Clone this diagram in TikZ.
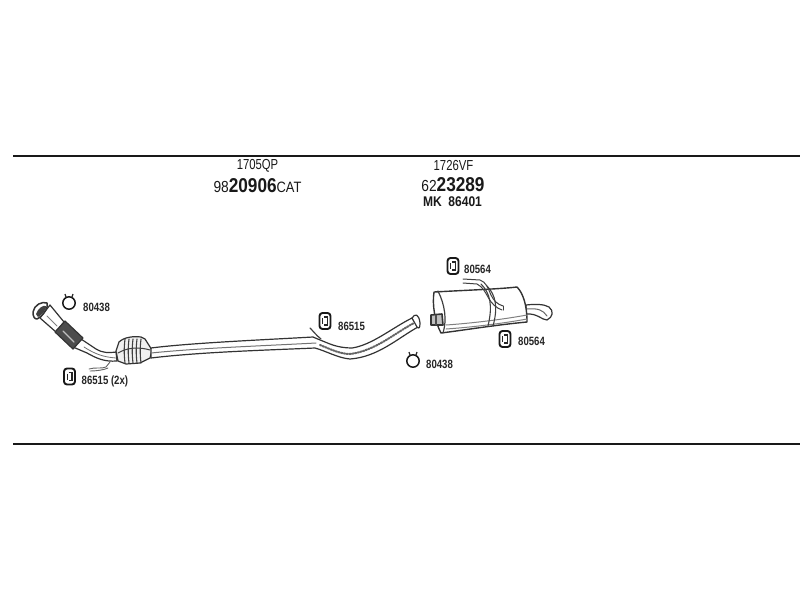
\documentclass[tikz,border=0pt]{standalone}
\usepackage{fontspec}
\setmainfont{Liberation Sans}
\usetikzlibrary{calc}
\newcommand\cnd[2][0.8]{\scalebox{#1}[1]{#2}}
\tikzset{
  part/.style={draw=black!80,fill=white,line width=1.2pt,line join=round},
  thin part/.style={draw=black!70,line width=0.8pt,line cap=round},
  tube/.style={draw=black!75,line width=1pt,line cap=round},
  rule line/.style={draw=black!90,line width=2pt},
  lab/.style={inner sep=0pt,font=\fontsize{12}{12}\selectfont\bfseries,text=black!85,anchor=west},
  head/.style={inner sep=0pt,font=\fontsize{14.5}{14.5}\selectfont,text=black!90},
  clampring/.style={draw=black!90,line width=1.5pt,fill=white},
  hanger/.style={draw=black!90,line width=1.9pt,fill=white,rounded corners=3pt}
}
\newcommand\ringclamp[2]{%
  \draw[clampring] (#1,#2) circle (6.2pt);
  \draw[black!85,line width=1.2pt] (#1-3,#2-6) -- (#1-4,#2-9) (#1+3,#2-6) -- (#1+4,#2-9);
}
\newcommand\hangerclamp[2]{%
  \draw[hanger] (#1-5.5,#2-8) rectangle (#1+5.5,#2+8);
  \draw[black!85,line width=1.2pt] (#1-1,#2-4) -- (#1+2.5,#2-4) -- (#1+2.5,#2+4) -- (#1-1,#2+4);
  \draw[black!85,line width=1pt] (#1-2.5,#2-3) -- (#1-2.5,#2+3);
}
\begin{document}
\begin{tikzpicture}[x=1pt,y=-1pt]
\useasboundingbox (0,0) rectangle (800,600);
\fill[white] (0,0) rectangle (800,600);
% rules
\coordinate (r1a) at (13,155.5); \coordinate (r1b) at (800,155.5);
\coordinate (r2a) at (13,444); \coordinate (r2b) at (800,444);
\draw[rule line] (r1a) -- (r1b);
\draw[rule line] (r2a) -- (r2b);
% headings
\node[head] (h1) at (257.5,166) {\cnd[0.78]{1705QP}};
\node[head] (h2) at (257.5,185.5) {\cnd[0.86]{\fontsize{16}{16}\selectfont 98\fontsize{20}{20}\selectfont\bfseries 20906\fontsize{15}{15}\selectfont\mdseries CAT}};
\node[head] (h3) at (453.5,166) {\cnd[0.78]{1726VF}};
\node[head] (h4) at (453,184.5) {\cnd[0.86]{\fontsize{16}{16}\selectfont 62\fontsize{20}{20}\selectfont\bfseries 23289}};
\node[head] (h5) at (452.5,201.5) {\cnd[0.86]{\fontsize{14}{14}\selectfont\bfseries MK\ \ 86401}};
% front pipe: flange and flex section
\draw[part] (40,318) -- (50,305) -- (64,322) -- (56,332) -- cycle;
\draw[thin part,black!50] (47,316) -- (57,326);
\draw[part,line width=1.5pt] (33,312) .. controls (34,305) and (42,301) .. (47,303) .. controls (49,307) and (43,316) .. (37,319) .. controls (34,319) and (33,316) .. (33,312) -- cycle;
\fill[black!75] (36,314) .. controls (38,308) and (43,305) .. (46,306) .. controls (47,309) and (42,315) .. (38,317) -- cycle;
\draw[part] (73,347) -- (81,339) -- (96,349) .. controls (103,353) and (108,353) .. (116,352) -- (117,361) .. controls (104,362) and (96,358) .. (87,353) -- cycle;
\draw[thin part,black!55] (84,347) .. controls (95,354) and (103,357) .. (116,358);
\draw[part,fill=black!70] (55,332) -- (65,321) -- (83,338) -- (73,349) -- cycle;
\draw[thin part,white!75!black,line width=1.4pt] (63,331) -- (74,342);
% heat shield bracket under pipe
\draw[thin part,black!60,line width=0.9pt] (89,369) .. controls (95,367) and (102,369) .. (106,367) -- (110,362);
\draw[thin part,black!60,line width=0.9pt] (90,371) .. controls (96,371) and (104,370) .. (108,368);
% catalyst
\draw[part,fill=black!6] (116,351) -- (119,342) .. controls (124,337) and (134,336) .. (141,337) -- (145,339) -- (152,350) -- (150,358) -- (140,363) -- (126,364) -- (118,361) -- cycle;
\foreach \x in {125,129,133,137,141} \draw[thin part,black!75,line width=1.1pt] (\x,339) .. controls (\x-1,347) and (\x-1,355) .. (\x,363);
\draw[thin part,black!75,line width=1pt] (118,353) .. controls (128,347) and (140,347) .. (150,350);
% long mid pipe
\draw[part] (151,348) .. controls (190,343) and (260,340) .. (313,337) .. controls (320,340) and (325,342) .. (330,344) .. controls (338,347) and (345,348) .. (352,348) .. controls (372,345) and (392,328) .. (412,318) -- (418,327) .. controls (398,338) and (378,357) .. (350,359) .. controls (338,358) and (326,351) .. (315,348) .. controls (270,350) and (200,352) .. (151,358) -- cycle;
\draw[tube,black!55] (151,353) .. controls (200,348) and (260,346) .. (316,343);
\draw[tube,black!60,dash pattern=on 1.6pt off 1.2pt,line width=2pt] (320,345) .. controls (330,349) and (340,354) .. (350,354) .. controls (375,351) and (395,333) .. (414,323);
\draw[tube,line width=1.2pt] (310,328) .. controls (314,332) and (316,335) .. (321,339);
\draw[part] (412,318) .. controls (415,313) and (419,314) .. (420,323) .. controls (420,328) and (419,329) .. (417,327) -- cycle;
% rear muffler tail pipe
\draw[part] (526,305) .. controls (535,304) and (544,304) .. (549,307) .. controls (554,311) and (553,317) .. (547,320) .. controls (542,320) and (537,313) .. (526,314) -- cycle;
\draw[tube,black!60] (527,309) .. controls (538,308) and (543,310) .. (547,316);
% muffler
\draw[part,line width=1.4pt] (434,292) .. controls (470,290) and (500,289) .. (517,287) .. controls (523,293) and (527,305) .. (527,322) .. controls (495,325) and (465,330) .. (441,333) .. controls (435,322) and (432,305) .. (434,292) -- cycle;
\draw[tube,line width=1.2pt] (438,291) .. controls (445,305) and (447,320) .. (443,333);
\draw[tube,black!50] (446,325) .. controls (475,323) and (505,319) .. (527,315);
\draw[tube,black!50] (446,329) .. controls (475,327) and (505,323) .. (527,319);
% strap and inlet on muffler
\draw[tube,line width=1.1pt] (481,284) .. controls (490,293) and (493,305) .. (488,326);
\draw[tube,line width=1.1pt] (487,286) .. controls (496,295) and (498,308) .. (493,326);
\draw[tube] (463,279) -- (480,280) .. controls (486,282) and (488,288) .. (491,295) .. controls (494,301) and (497,304) .. (503,306);
\draw[tube] (463,283) -- (477,284) .. controls (483,287) and (485,292) .. (488,297) .. controls (491,303) and (496,308) .. (502,310);
\draw[tube] (503,306) -- (503,310);
% inlet stub
\draw[part,line width=1.6pt,fill=black!25] (431,315) -- (442,314) -- (443,325) -- (431,325) -- cycle;
\draw[thin part,line width=1.2pt] (436,315) -- (436,325);
% clamps
\ringclamp{69}{303}
\ringclamp{413}{361}
\hangerclamp{69.5}{376.5}
\hangerclamp{325}{321}
\hangerclamp{453}{266}
\hangerclamp{505}{339}
% labels
\node[lab] (l1) at (83,307.5) {\cnd[0.8]{80438}};
\node[lab] (l2) at (81.5,381.5) {\cnd[0.8]{86515 (2x)}};
\node[lab] (l3) at (338,326.5) {\cnd[0.8]{86515}};
\node[lab] (l4) at (426,364.5) {\cnd[0.8]{80438}};
\node[lab] (l5) at (464,269.5) {\cnd[0.8]{80564}};
\node[lab] (l6) at (518,341.5) {\cnd[0.8]{80564}};
\end{tikzpicture}
\end{document}
